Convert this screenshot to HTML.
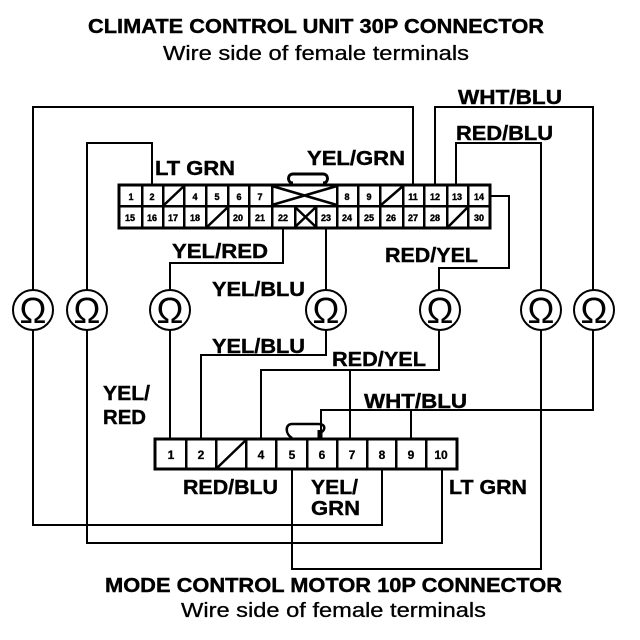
<!DOCTYPE html>
<html>
<head>
<meta charset="utf-8">
<style>
html,body{margin:0;padding:0;background:#fff;width:640px;height:640px;overflow:hidden}
svg{display:block}
text{font-family:"Liberation Sans",sans-serif;fill:#000}
.l{font-weight:bold;font-size:20px;stroke:#000;stroke-width:.4px}
.r{font-size:20px;stroke:#000;stroke-width:.3px}
.n{font-weight:bold;font-size:9px;text-anchor:middle;stroke:#000;stroke-width:.4px}
.m{font-weight:bold;font-size:12px;text-anchor:middle;stroke:#000;stroke-width:.3px}
.o{font-size:36px;text-anchor:middle}
.w{fill:none;stroke:#000;stroke-width:2}
.c{fill:none;stroke:#000;stroke-width:2.5}
</style>
</head>
<body>
<svg width="640" height="640" viewBox="0 0 640 640" xmlns="http://www.w3.org/2000/svg">
<!-- wires -->
<g class="w" shape-rendering="crispEdges">
<path d="M33 290V107H413V185"/>
<path d="M33 330V525H382V469"/>
<path d="M87 290V143H152V185"/>
<path d="M87 330V543H442V469"/>
<path d="M170 290V263H283V228"/>
<path d="M170 330V439"/>
<path d="M326 290V228"/>
<path d="M326 330V355H201V439"/>
<path d="M439 290V268H509V196H490"/>
<path d="M439 330V370H261V439"/>
<path d="M350 370V439"/>
<path d="M541 290V143H456V185"/>
<path d="M541 330V569H292V469"/>
<path d="M593 290V107H435V185"/>
<path d="M593 330V410H321V439"/>
<path d="M411 410V439"/>
</g>
<!-- omega meters -->
<g fill="#fff" stroke="#000" stroke-width="2">
<circle cx="33" cy="310" r="20"/><circle cx="87" cy="310" r="20"/><circle cx="170" cy="310" r="20"/><circle cx="326" cy="310" r="20"/><circle cx="440" cy="310" r="20"/><circle cx="541" cy="310" r="20"/><circle cx="594" cy="310" r="20"/>
</g>
<g>
<text class="o" x="33" y="323">Ω</text><text class="o" x="87" y="323">Ω</text><text class="o" x="170" y="323">Ω</text><text class="o" x="326" y="323">Ω</text><text class="o" x="440" y="323">Ω</text><text class="o" x="541" y="323">Ω</text><text class="o" x="594" y="323">Ω</text>
</g>
<!-- top connector -->
<rect x="119" y="185" width="371" height="43" fill="#fff" stroke="#000" stroke-width="3"/>
<path class="c" shape-rendering="crispEdges" d="M119 206H490M142 185V228M163 185V228M184 185V228M206 185V228M228 185V228M249 185V228M272 185V228M295 206V228M316 206V228M337 185V228M358 185V228M380 185V228M403 185V228M424 185V228M447 185V228M468 185V228"/>
<path class="c" d="M272 186L337 205M272 205L337 186M295 207L316 227M295 227L316 207M164 205L184 186M207 227L228 207M381 205L403 186M448 227L468 207"/>
<path d="M293 183C287 183 287 174 293 174H323C329 174 329 183 323 183" fill="none" stroke="#000" stroke-width="3"/>
<g class="n">
<text x="131" y="200">1</text><text x="152" y="200">2</text><text x="195" y="200">4</text><text x="217" y="200">5</text><text x="239" y="200">6</text><text x="260" y="200">7</text><text x="347" y="200">8</text><text x="369" y="200">9</text><text x="413" y="200">11</text><text x="435" y="200">12</text><text x="457" y="200">13</text><text x="479" y="200">14</text>
<text x="130" y="221">15</text><text x="152" y="221">16</text><text x="173" y="221">17</text><text x="195" y="221">18</text><text x="238" y="221">20</text><text x="260" y="221">21</text><text x="283" y="221">22</text><text x="326" y="221">23</text><text x="347" y="221">24</text><text x="369" y="221">25</text><text x="391" y="221">26</text><text x="413" y="221">27</text><text x="435" y="221">28</text><text x="479" y="221">30</text>
</g>
<!-- bottom connector -->
<rect x="155" y="439" width="302" height="30" fill="#fff" stroke="#000" stroke-width="3"/>
<path class="c" shape-rendering="crispEdges" d="M186 439V469M216 439V469M246 439V469M276 439V469M307 439V469M337 439V469M367 439V469M396 439V469M426 439V469"/>
<path class="c" d="M217 468L246 440"/>
<path d="M292 438C285 434 285 424 292 424H318C326 424 326 430 320 433" fill="none" stroke="#000" stroke-width="2.5"/>
<path d="M320 430V439" stroke="#000" stroke-width="5" fill="none"/>
<g class="m">
<text x="171" y="459">1</text><text x="201" y="459">2</text><text x="261" y="459">4</text><text x="292" y="459">5</text><text x="322" y="459">6</text><text x="352" y="459">7</text><text x="382" y="459">8</text><text x="411" y="459">9</text><text x="441" y="459">10</text>
</g>
<!-- labels -->
<g>
<text class="l" x="88" y="33" textLength="456" lengthAdjust="spacingAndGlyphs">CLIMATE CONTROL UNIT 30P CONNECTOR</text>
<text class="r" x="163" y="60" textLength="306" lengthAdjust="spacingAndGlyphs">Wire side of female terminals</text>
<text class="l" x="458" y="104" textLength="104" lengthAdjust="spacingAndGlyphs">WHT/BLU</text>
<text class="l" x="456" y="140" textLength="97" lengthAdjust="spacingAndGlyphs">RED/BLU</text>
<text class="l" x="155" y="175" textLength="80" lengthAdjust="spacingAndGlyphs">LT GRN</text>
<text class="l" x="307" y="165" textLength="98" lengthAdjust="spacingAndGlyphs">YEL/GRN</text>
<text class="l" x="172" y="258" textLength="96" lengthAdjust="spacingAndGlyphs">YEL/RED</text>
<text class="l" x="385" y="262" textLength="93" lengthAdjust="spacingAndGlyphs">RED/YEL</text>
<text class="l" x="212" y="296" textLength="93" lengthAdjust="spacingAndGlyphs">YEL/BLU</text>
<text class="l" x="212" y="353" textLength="93" lengthAdjust="spacingAndGlyphs">YEL/BLU</text>
<text class="l" x="332" y="366" textLength="94" lengthAdjust="spacingAndGlyphs">RED/YEL</text>
<text class="l" x="364" y="408" textLength="103" lengthAdjust="spacingAndGlyphs">WHT/BLU</text>
<text class="l" x="103" y="400" textLength="47" lengthAdjust="spacingAndGlyphs">YEL/</text>
<text class="l" x="103" y="424" textLength="43" lengthAdjust="spacingAndGlyphs">RED</text>
<text class="l" x="183" y="494" textLength="95" lengthAdjust="spacingAndGlyphs">RED/BLU</text>
<text class="l" x="311" y="494" textLength="47" lengthAdjust="spacingAndGlyphs">YEL/</text>
<text class="l" x="311" y="515" textLength="49" lengthAdjust="spacingAndGlyphs">GRN</text>
<text class="l" x="449" y="494" textLength="78" lengthAdjust="spacingAndGlyphs">LT GRN</text>
<text class="l" x="105" y="592" textLength="457" lengthAdjust="spacingAndGlyphs">MODE CONTROL MOTOR 10P CONNECTOR</text>
<text class="r" x="181" y="617" textLength="305" lengthAdjust="spacingAndGlyphs">Wire side of female terminals</text>
</g>
</svg>
</body>
</html>
